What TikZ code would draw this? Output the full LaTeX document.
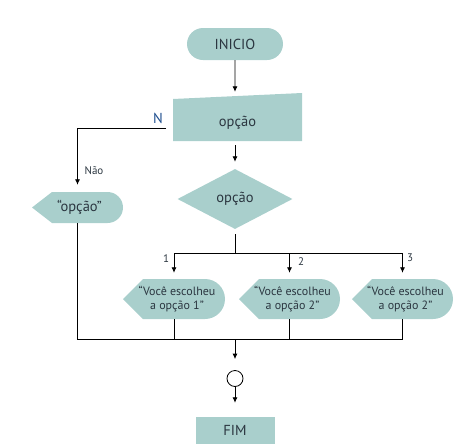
\documentclass[tikz,border=0pt]{standalone}
\usepackage{fontspec}
\setmainfont{PT Sans}
\usetikzlibrary{shapes.geometric,shapes.misc,calc,arrows.meta}
\definecolor{boxfill}{HTML}{A9CFCC}
\definecolor{boxtext}{HTML}{2B3640}
\definecolor{nblue}{HTML}{1F4F8F}
\begin{document}
\begin{tikzpicture}[x=1pt,y=-1pt,
  every node/.style={text=boxtext, inner sep=0pt},
  line/.style={line width=0.8pt},
  flow/.style={line width=0.8pt, -{Latex[length=5.5pt,width=5pt]}},
  bigtext/.style={font=\fontsize{14.5}{17}\selectfont},
  smalltext/.style={font=\fontsize{12}{14.5}\selectfont, align=center},
  startbox/.style={rounded rectangle, fill=boxfill, minimum width=96pt, minimum height=32pt, bigtext},
  endbox/.style={rectangle, fill=boxfill, minimum width=79pt, minimum height=27pt, bigtext},
  decbox/.style={diamond, fill=boxfill, minimum width=115pt, minimum height=60pt, bigtext},
  inputbox/.style={rectangle, minimum width=129pt, minimum height=48pt,
    path picture={\fill[boxfill] let \p1=(path picture bounding box.south west),
      \p2=(path picture bounding box.north east) in
      (\x1,\y1) -- (\x1,\y2-6pt) -- (\x2,\y2) -- (\x2,\y1) -- cycle;}},
  showbox/.style={rectangle, minimum height=#1,
    path picture={\fill[boxfill] let \p1=(path picture bounding box.south west),
      \p2=(path picture bounding box.north east), \n1={(\y2-\y1)/2} in
      (\x1,\y1+\n1) -- (\x1+20pt,\y2) -- (\x2-\n1,\y2)
      arc[start angle=90, end angle=-90, radius=\n1] -- (\x1+20pt,\y1) -- cycle;}},
  joinpt/.style={circle, draw, line width=0.8pt, minimum size=16pt}
]
\useasboundingbox (0,0) rectangle (475,448);

\node[startbox] (start) at (235,44) {INICIO};
\node[inputbox, label={[bigtext, yshift=-6pt]center:opção}] (inp) at (237.5,117) {};
\node[decbox] (dec) at (235,199) {opção};
\node[showbox=31pt, minimum width=91pt, bigtext] (opt) at (77.5,207.5) {\hspace*{4pt}“opção”};
\node[showbox=40pt, minimum width=102pt, smalltext] (b1) at (174,299) {\hspace*{6pt}“Você escolheu\\\hspace*{6pt}a opção 1”};
\node[showbox=40pt, minimum width=101pt, smalltext] (b2) at (289.5,299) {\hspace*{6pt}“Você escolheu\\\hspace*{6pt}a opção 2”};
\node[showbox=40pt, minimum width=101pt, smalltext] (b3) at (402.5,299) {\hspace*{6pt}“Você escolheu\\\hspace*{6pt}a opção 2”};
\node[joinpt] (jn) at (235,378.5) {};
\node[endbox] (fim) at (235,430.5) {FIM};

\coordinate (nstart) at (166,128);
\coordinate (split) at (235,253);
\coordinate (merge) at (235,339);

\node[bigtext, text=nblue] (nlab) at (158,118) {N};
\node[font=\fontsize{11}{13}\selectfont] (naolab) at (94,171) {Não};
\node[font=\fontsize{11}{13}\selectfont] (lab1) at (166,259) {1};
\node[font=\fontsize{11}{13}\selectfont] (lab2) at (301,262) {2};
\node[font=\fontsize{11}{13}\selectfont] (lab3) at (410,258) {3};

\draw[flow, shorten >=1pt] (start) -- (start |- inp.north);
\draw[flow, shorten <=4pt, shorten >=7pt] (inp.south -| dec) -- (dec);
\draw[flow, shorten >=7pt] (nstart) -| (opt);
\draw[line, shorten <=5pt] (dec) -- (split);
\draw[line] (b1.north |- split) -- (b3.north |- split);
\draw[flow, shorten >=6pt] (b1.north |- split) -- (b1.north);
\draw[flow, shorten >=6pt] (b2.north |- split) -- (b2.north);
\draw[flow, shorten >=6pt] (b3.north |- split) -- (b3.north);
\draw[line] (opt.south) |- (b3.south |- merge) -- (b3.south);
\draw[line] (b1.south) -- (b1.south |- merge);
\draw[line] (b2.south) -- (b2.south |- merge);
\draw[flow, shorten >=11pt] (merge) -- (jn);
\draw[flow, shorten >=14pt] (jn) -- (fim);
\end{tikzpicture}
\end{document}
